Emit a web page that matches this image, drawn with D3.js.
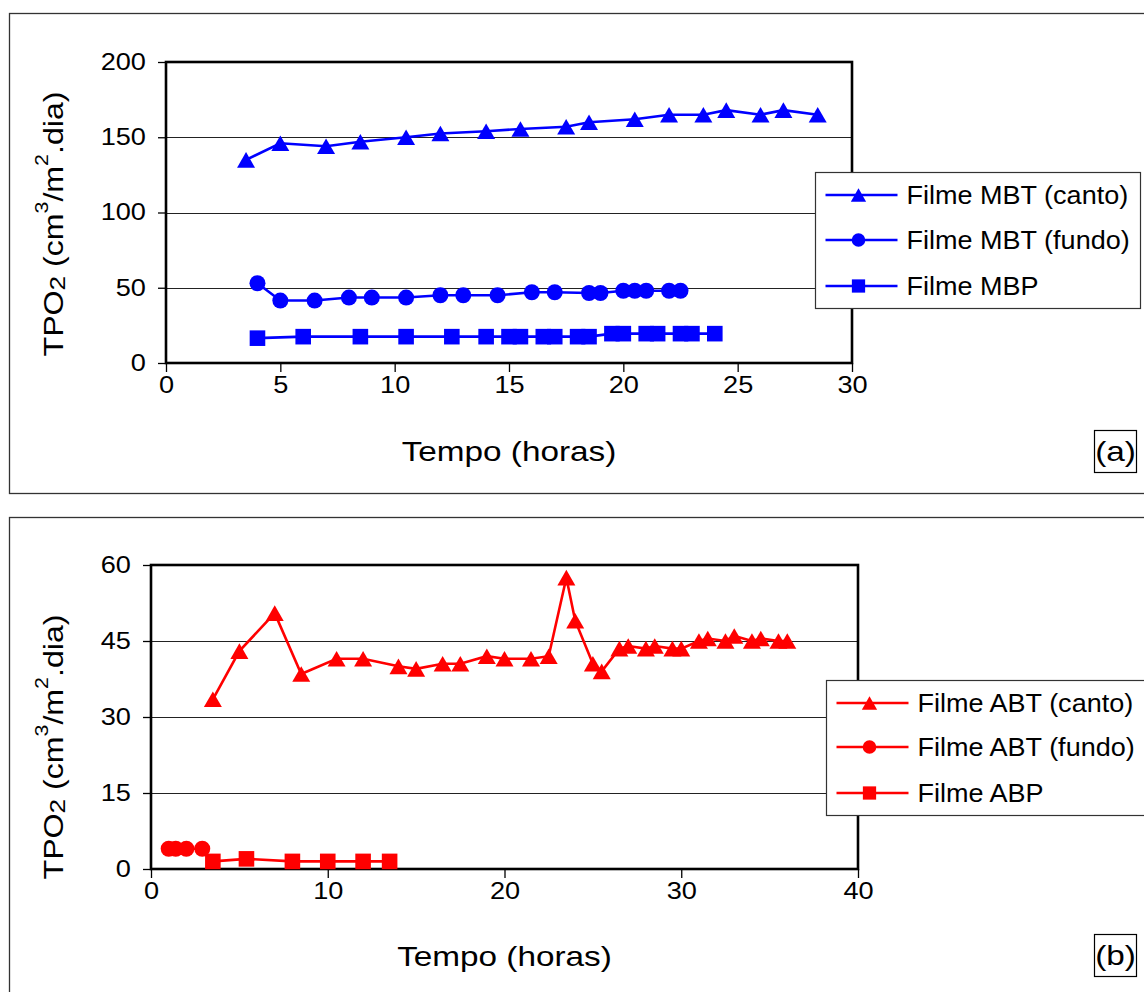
<!DOCTYPE html>
<html>
<head>
<meta charset="utf-8">
<script src="https://cdn.jsdelivr.net/npm/d3@7"></script>
<style>
  body { margin: 0; background: #fff; }
  svg text { font-family: "Liberation Sans", Arial, sans-serif; fill: #000; }
</style>
</head>
<body>
<svg id="chart" width="1144" height="992"></svg>
<script>
// ---- data (tempo em horas, TPO2) ----
const mbtCanto = [[3.5,135],[5,146],[7,144],[8.5,147],[10.5,150],[12,152.5],[14,154],[15.5,155.5],[17.5,157],[18.5,160],[20.5,162],[22,165],[23.5,165],[24.5,168],[26,165],[27,168],[28.5,165]];
const mbtFundo = [[4,53],[5,41.5],[6.5,41.5],[8,43.5],[9,43.5],[10.5,43.5],[12,45],[13,45],[14.5,45],[16,47],[17,47],[18.5,46.5],[19,46.5],[20,48],[20.5,48],[21,48],[22,48],[22.5,48]];
const mbp = [[4,16.5],[6,17.5],[8.5,17.5],[10.5,17.5],[12.5,17.5],[14,17.5],[15,17.5],[15.5,17.5],[16.5,17.5],[17,17.5],[18,17.5],[18.5,17.5],[19.5,19.5],[20,19.5],[21,19.5],[21.5,19.5],[22.5,19.5],[23,19.5],[24,19.5]];

const abtCanto = [[3.5,33.5],[5,43],[7,50.5],[8.5,38.5],[10.5,41.5],[12,41.5],[14,40],[15,39.5],[16.5,40.5],[17.5,40.5],[19,42],[20,41.5],[21.5,41.5],[22.5,42],[23.5,57.5],[24,49],[25,40.5],[25.5,39],[26.5,43.5],[27,44],[28,43.5],[28.5,44],[29.5,43.5],[30,43.5],[31,45],[31.5,45.5],[32.5,45],[33,46],[34,45],[34.5,45.5],[35.5,45],[36,45]];
const abtFundo = [[1,4],[1.4,4],[2,4],[2.9,4]];
const abp = [[3.5,1.5],[5.4,2],[8,1.5],[10,1.5],[12,1.5],[13.5,1.5]];

const xTicksA = [0, 5, 10, 15, 20, 25, 30];
const yTicksA = [0, 50, 100, 150, 200];
const xTicksB = [0, 10, 20, 30, 40];
const yTicksB = [0, 15, 30, 45, 60];

const legendA = ['Filme MBT (canto)', 'Filme MBT (fundo)', 'Filme MBP'];
const legendB = ['Filme ABT (canto)', 'Filme ABT (fundo)', 'Filme ABP'];

const xLabel = 'Tempo (horas)';

const svg = d3.select('#chart');
const STRETCH = 1.19;

// marker paths, centred on the point
function markerPath(kind, k) {
  k = k || 1;
  if (kind === 'tri') {
    const w = 9 * k, h = 7.8 * k;
    return `M0,${-h}L${w},${h}L${-w},${h}Z`;
  }
  if (kind === 'circle') {
    const r = 8 * k;
    return `M${r},0A${r},${r} 0 1,1 ${-r},0A${r},${r} 0 1,1 ${r},0Z`;
  }
  const s = 7.8 * k;
  return `M${-s},${-s}H${s}V${s}H${-s}Z`;
}

function drawPanel(o) {
  const g = svg.append('g');

  // panel frame
  g.append('rect')
    .attr('x', 9.5).attr('y', o.top + 0.5)
    .attr('width', 1150).attr('height', o.panelH)
    .attr('fill', 'none').attr('stroke', '#333').attr('stroke-width', 1.3);

  const x = d3.scaleLinear().domain(o.xDomain).range([o.left, o.right]);
  const y = d3.scaleLinear().domain(o.yDomain).range([o.bottom, o.plotTop]);

  // gridlines
  g.selectAll('.grid')
    .data(o.yTicks.slice(1, -1))
    .enter().append('line')
    .attr('x1', o.left).attr('x2', o.right)
    .attr('y1', d => Math.round(y(d)) + 0.5).attr('y2', d => Math.round(y(d)) + 0.5)
    .attr('stroke', '#222').attr('stroke-width', 1.2);

  // axes
  const ax = g.append('g')
    .attr('transform', `translate(0,${o.bottom})`)
    .call(d3.axisBottom(x).tickValues(o.xTicks).tickSize(9).tickPadding(5).tickFormat(d3.format('d')));
  const ay = g.append('g')
    .attr('transform', `translate(${o.left},0)`)
    .call(d3.axisLeft(y).tickValues(o.yTicks).tickSize(8).tickPadding(9).tickFormat(d3.format('d')));
  [ax, ay].forEach(a => {
    a.select('.domain').remove();
    a.attr('font-size', 23).attr('font-family', '"Liberation Sans", Arial, sans-serif');
    a.selectAll('line').attr('stroke', '#000').attr('stroke-width', 1.3);
    a.selectAll('text').attr('transform', 'scale(1.18,1)').attr('fill', '#000');
  });

  // plot frame
  g.append('rect')
    .attr('x', o.left).attr('y', o.plotTop)
    .attr('width', o.right - o.left).attr('height', o.bottom - o.plotTop)
    .attr('fill', 'none').attr('stroke', '#000').attr('stroke-width', 2.6);

  // series
  const line = d3.line().x(d => x(d[0])).y(d => y(d[1]));
  o.series.forEach(s => {
    g.append('path')
      .datum(s.data)
      .attr('d', line)
      .attr('fill', 'none')
      .attr('stroke', o.color)
      .attr('stroke-width', 2.6);
    g.selectAll(null)
      .data(s.data)
      .enter().append('path')
      .attr('transform', d => `translate(${x(d[0])},${y(d[1])})`)
      .attr('d', markerPath(s.kind))
      .attr('fill', o.color);
  });

  // legend
  const lg = g.append('g');
  lg.append('rect')
    .attr('x', o.legend.x).attr('y', o.legend.y)
    .attr('width', o.legend.w).attr('height', o.legend.h)
    .attr('fill', '#fff').attr('stroke', '#333').attr('stroke-width', 1.2);
  o.series.forEach((s, i) => {
    const ry = o.legend.rows[i];
    lg.append('line')
      .attr('x1', o.legend.x + 10).attr('x2', o.legend.x + 82)
      .attr('y1', ry).attr('y2', ry)
      .attr('stroke', o.color).attr('stroke-width', 2.6);
    lg.append('path')
      .attr('transform', `translate(${o.legend.x + 43},${ry})`)
      .attr('d', markerPath(s.kind, 0.85))
      .attr('fill', o.color);
    lg.append('text')
      .attr('transform', `translate(${o.legend.x + 91},${ry + 9}) scale(1.06,1)`)
      .attr('font-size', 25.5)
      .text(o.labels[i]);
  });

  // x label
  g.append('text')
    .attr('transform', `translate(${(o.left + o.right) / 2},${o.xLabelY}) scale(${STRETCH},1)`)
    .attr('text-anchor', 'middle')
    .attr('font-size', 28)
    .text(xLabel);

  // y label  TPO2 (cm3/m2.dia)
  const yl = g.append('text')
    .attr('transform', `translate(63,${o.yLabelY}) rotate(-90) scale(${STRETCH},1)`)
    .attr('text-anchor', 'middle')
    .attr('font-size', 27);
  yl.append('tspan').text('TPO');
  yl.append('tspan').attr('font-size', 22).attr('dy', 2).text('2');
  yl.append('tspan').attr('dy', -2).text(' (cm');
  yl.append('tspan').attr('font-size', 18).attr('dy', -15).text('3');
  yl.append('tspan').attr('dy', 15).text('/m');
  yl.append('tspan').attr('font-size', 18).attr('dy', -15).text('2');
  yl.append('tspan').attr('dy', 15).text('.dia)');

  // panel tag
  g.append('rect')
    .attr('x', 1094.5).attr('y', o.tagY + 0.5)
    .attr('width', 42).attr('height', 42)
    .attr('fill', 'none').attr('stroke', '#000').attr('stroke-width', 1.2);
  g.append('text')
    .attr('transform', `translate(1115.5,${o.tagY + 31}) scale(${STRETCH},1)`)
    .attr('text-anchor', 'middle')
    .attr('font-size', 28)
    .text(o.tag);
}

drawPanel({
  top: 13, panelH: 480,
  left: 166, right: 852, plotTop: 62, bottom: 363,
  xDomain: [0, 30], yDomain: [0, 200],
  xTicks: xTicksA, yTicks: yTicksA,
  color: '#0000ff',
  series: [
    { data: mbtCanto, kind: 'tri' },
    { data: mbtFundo, kind: 'circle' },
    { data: mbp, kind: 'square' }
  ],
  labels: legendA,
  legend: { x: 815.5, y: 172.5, w: 325, h: 136, rows: [195, 240, 286] },
  xLabelY: 461, yLabelY: 224,
  tagY: 430, tag: '(a)'
});

drawPanel({
  top: 517, panelH: 500,
  left: 151, right: 858, plotTop: 565, bottom: 869,
  xDomain: [0, 40], yDomain: [0, 60],
  xTicks: xTicksB, yTicks: yTicksB,
  color: '#ff0000',
  series: [
    { data: abtCanto, kind: 'tri' },
    { data: abtFundo, kind: 'circle' },
    { data: abp, kind: 'square' }
  ],
  labels: legendB,
  legend: { x: 826.5, y: 680.5, w: 330, h: 135, rows: [703, 747, 793] },
  xLabelY: 966, yLabelY: 747,
  tagY: 934, tag: '(b)'
});
</script>
</body>
</html>
